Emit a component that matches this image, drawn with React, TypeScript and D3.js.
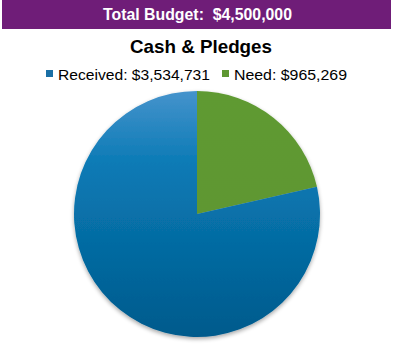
import React from "react";
import * as d3 from "d3";

const categories = ["Need", "Received"];
const values = [965269, 3534731];
const legendLabels = ["Received: $3,534,731", "Need: $965,269"];
const bannerText = "Total Budget:  $4,500,000";
const titleText = "Cash & Pledges";

export default function App() {
  const W = 394, H = 345;
  const cx = 197, cy = 214, r = 123;
  const pie = d3.pie<number>().sort(null).value((d) => d);
  const arcs = pie(values);
  const arc = d3.arc<d3.PieArcDatum<number>>().innerRadius(0).outerRadius(r);
  const fills = ["url(#gGreen)", "url(#gBlue)"];
  return (
    <svg width={W} height={H} style={{ position: "absolute", left: 0, top: 0 }} fontFamily="'Liberation Sans', Arial, sans-serif">
      <defs>
        <linearGradient id="gBlue" x1="0" y1="0" x2="0" y2="1">
          <stop offset="0" stopColor="#4593cc" />
          <stop offset="0.3" stopColor="#0a7ab5" />
          <stop offset="1" stopColor="#005a8c" />
        </linearGradient>
        <linearGradient id="gGreen" x1="0" y1="0" x2="0" y2="1">
          <stop offset="0" stopColor="#5f9a32" />
          <stop offset="1" stopColor="#5e9732" />
        </linearGradient>
        <filter id="sh" x="-10%" y="-10%" width="120%" height="125%">
          <feGaussianBlur in="SourceAlpha" stdDeviation="2" />
          <feOffset dx="0" dy="2" result="b" />
          <feComponentTransfer><feFuncA type="linear" slope="0.35" /></feComponentTransfer>
          <feMerge><feMergeNode /><feMergeNode in="SourceGraphic" /></feMerge>
        </filter>
      </defs>
      <rect x={0} y={0} width={W} height={H} fill="#fff" />
      <rect x={2} y={0} width={389} height={29} fill="#6f1d78" />
      <text x={103} y={20} fill="#fff" fontWeight="bold" fontSize={16.5} textLength={189} lengthAdjust="spacingAndGlyphs" style={{ whiteSpace: "pre" }}>{bannerText}</text>
      <text x={130} y={53} fill="#000" fontWeight="bold" fontSize={18.5} textLength={142} lengthAdjust="spacingAndGlyphs">{titleText}</text>
      <g>
        <rect x={46} y={70} width={7} height={7} fill="#1a6fa5" />
        <text x={58} y={80} fontSize={15.5} fill="#000" textLength={152} lengthAdjust="spacingAndGlyphs">{legendLabels[0]}</text>
        <rect x={222} y={70} width={7} height={7} fill="#5e9732" />
        <text x={234} y={80} fontSize={15.5} fill="#000" textLength={113} lengthAdjust="spacingAndGlyphs">{legendLabels[1]}</text>
      </g>
      <g transform={`translate(${cx},${cy})`} filter="url(#sh)">
        {arcs.map((a, i) => (
          <path key={categories[i]} d={arc(a) || ""} fill={fills[i]} />
        ))}
      </g>
    </svg>
  );
}
